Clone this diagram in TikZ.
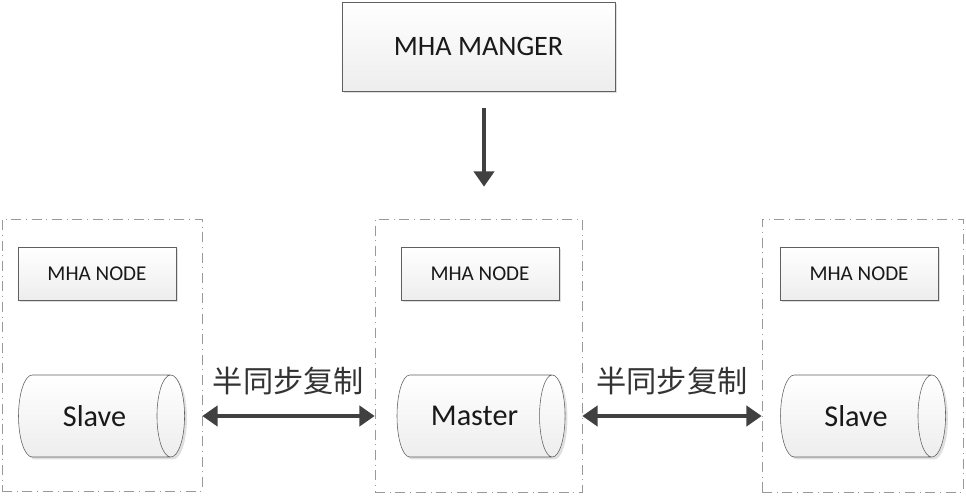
\documentclass[tikz,border=0pt]{standalone}
\usepackage{fontspec}
\setmainfont{Carlito}
\newfontfamily\cjk{Noto Sans CJK SC}
\usetikzlibrary{shapes.geometric,shadows,arrows.meta}
\tikzset{
  box/.style={draw=gray!75!black, top color=white, bottom color=gray!14,
    drop shadow={opacity=0.25, shadow xshift=0.06cm, shadow yshift=-0.06cm},
    inner sep=0pt, text=black!90},
  nodebox/.style={box, minimum width=3.95cm, minimum height=1.325cm, font=\fontsize{15}{17}\selectfont},
  db/.style={box, cylinder, shape border rotate=0, aspect=1.3,
    minimum height=4.15cm, minimum width=2.05cm, font=\fontsize{21.5}{23}\selectfont},
  grp/.style={draw=gray!80, dash pattern=on 0.25cm off 0.12cm on 0.02cm off 0.12cm,
    inner sep=0pt},
  arr/.style={draw=black!75, line width=0.1cm, -{Triangle[length=0.38cm,width=0.5cm]}},
  biarr/.style={draw=black!75, line width=0.1cm,
    {Triangle[length=0.38cm,width=0.5cm]}-{Triangle[length=0.38cm,width=0.5cm]}},
  sync/.style={font=\cjk\fontsize{21.5}{23}\selectfont, text=black!80}
}
\begin{document}
\begin{tikzpicture}[x=0.025cm,y=-0.025cm]
  \useasboundingbox (0,0) rectangle (966,497);
  % groups
  \node[grp, minimum width=5cm, minimum height=6.8cm] (lgrp) at (102,355) {};
  \node[grp, minimum width=5.175cm, minimum height=6.825cm] (mgrp) at (478.5,355.5) {};
  \node[grp, minimum width=5.025cm, minimum height=6.825cm] (rgrp) at (862.5,355.5) {};
  % manager
  \node[box, minimum width=6.825cm, minimum height=2.225cm,
    font=\fontsize{20}{22}\selectfont] (mgr) at (478.5,46.5) {MHA MANGER};
  % mha nodes
  \node[nodebox] (lnode) at (97,273.5) {MHA NODE};
  \node[nodebox] (mnode) at (480,273.5) {MHA NODE};
  \node[nodebox] (rnode) at (859,273.5) {MHA NODE};
  % databases
  \node[db] (ldb) at (94.5,416) {Slave};
  \node[db, minimum height=4.2cm] (mdb) at (474.5,416) {Master};
  \node[db, minimum height=4.125cm] (rdb) at (856,416) {Slave};
  % connectors
  \draw[arr, shorten <=0.43cm, shorten >=0.8cm] (mgr.south -| 484,0) -- (mgrp.north -| 484,0);
  \draw[biarr] (lgrp.east |- ldb) -- (mgrp.west |- ldb)
    node[sync, midway, above=0.35cm] {半同步复制};
  \draw[biarr] (mgrp.east |- mdb) -- (rgrp.west |- mdb)
    node[sync, midway, above=0.35cm] {半同步复制};
\end{tikzpicture}
\end{document}
